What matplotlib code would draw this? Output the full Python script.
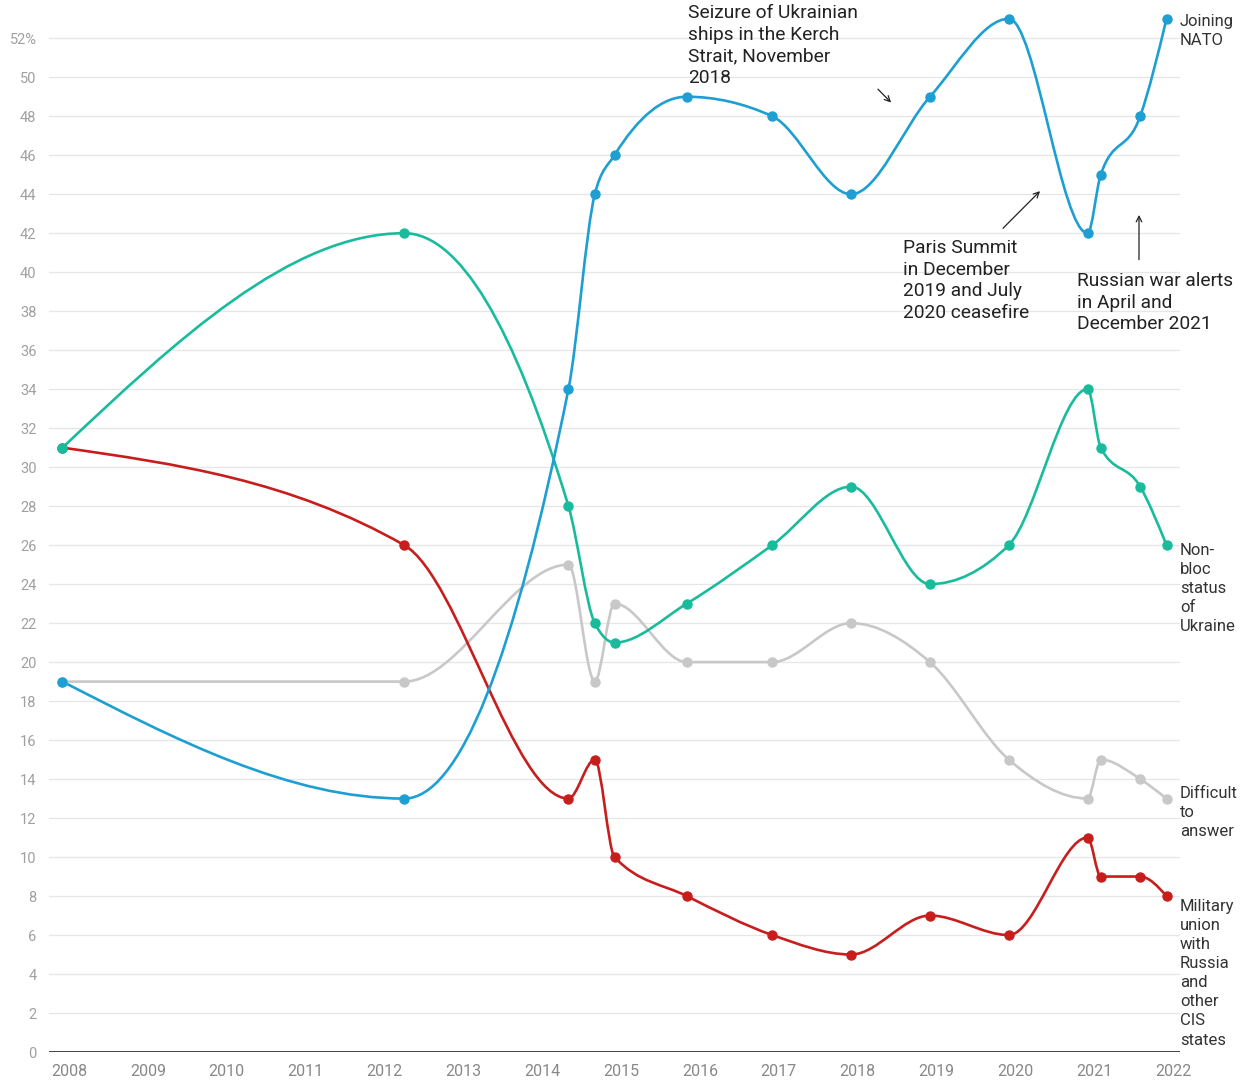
import numpy as np
import matplotlib
matplotlib.use("Agg")
import matplotlib.pyplot as plt
from matplotlib.path import Path
from matplotlib.patches import PathPatch

plt.rcParams['font.family'] = ['Roboto', 'DejaVu Sans']

# survey dates (decimal years)
dates = [2007.917, 2012.25, 2014.333, 2014.667, 2014.917, 2015.833, 2016.917,
         2017.917, 2018.917, 2019.917, 2020.917, 2021.083, 2021.583, 2021.917]
nato = [19, 13, 34, 44, 46, 49, 48, 44, 49, 53, 42, 45, 48, 53]
nonbloc = [31, 42, 28, 22, 21, 23, 26, 29, 24, 26, 34, 31, 29, 26]
difficult = [19, 19, 25, 19, 23, 20, 20, 22, 20, 15, 13, 15, 14, 13]
military = [31, 26, 13, 15, 10, 8, 6, 5, 7, 6, 11, 9, 9, 8]

series_names = ["Difficult\nto\nanswer",
                "Military\nunion\nwith\nRussia\nand\nother\nCIS\nstates",
                "Non-\nbloc\nstatus\nof\nUkraine",
                "Joining\nNATO"]
series_vals = [difficult, military, nonbloc, nato]
colors = ["#c8c8c8", "#c71e1d", "#18bc9c", "#1d9fd3"]
label_y = [13.65, 7.85, 26.1, 53.25]

year_ticks = list(range(2008, 2023))
y_ticks = list(range(0, 53, 2))


def monotone_path(x, y):
    x = np.asarray(x, float)
    y = np.asarray(y, float)
    n = len(x)
    h = np.diff(x)
    s = np.diff(y) / h
    t = np.zeros(n)
    for i in range(1, n - 1):
        h0, h1 = h[i - 1], h[i]
        s0, s1 = s[i - 1], s[i]
        p = (s0 * h1 + s1 * h0) / (h0 + h1)
        t[i] = (np.sign(s0) + np.sign(s1)) * min(abs(s0), abs(s1), 0.5 * abs(p))
    t[0] = (3 * s[0] - t[1]) / 2
    t[-1] = (3 * s[-1] - t[-2]) / 2
    verts = [(x[0], y[0])]
    codes = [Path.MOVETO]
    for i in range(n - 1):
        dx = (x[i + 1] - x[i]) / 3
        verts += [(x[i] + dx, y[i] + dx * t[i]),
                  (x[i + 1] - dx, y[i + 1] - dx * t[i + 1]),
                  (x[i + 1], y[i + 1])]
        codes += [Path.CURVE4] * 3
    return Path(verts, codes)


fig = plt.figure(figsize=(12.49, 10.82), dpi=100)
ax = fig.add_axes([49 / 1249, 1 - 1052 / 1082, (1180 - 49) / 1249, (1052 - 9) / 1082])
ax.set_xlim(2007.746, 2022.088)
ax.set_ylim(0, 53.5)

for v in y_ticks[1:]:
    ax.axhline(v, color="#e6e6e6", lw=0.9, zorder=0)
ax.axhline(0, color="#333333", lw=1.3, zorder=1)

for sp in ax.spines.values():
    sp.set_visible(False)

ax.set_yticks(y_ticks)
ax.set_yticklabels([str(v) if v != 52 else "52%" for v in y_ticks])
ax.set_xticks(year_ticks)
ax.set_xticklabels([str(y) for y in year_ticks])
ax.tick_params(axis='y', length=0, pad=9, labelsize=10.5, labelcolor="#a0a0a0")
ax.tick_params(axis='x', length=0, pad=9, labelsize=11.5, labelcolor="#888888")

for vals, c, name, ly in zip(series_vals, colors, series_names, label_y):
    patch = PathPatch(monotone_path(dates, vals), facecolor='none', edgecolor=c,
                      lw=1.9, zorder=3, clip_on=False, capstyle='round', joinstyle='round')
    ax.add_patch(patch)
    ax.plot(dates, vals, 'o', color=c, ms=6.5, zorder=4, clip_on=False)
    ax.text(2022.088, ly, name, fontsize=12, color="#333333", va='top', ha='left',
            linespacing=1.34, clip_on=False)

ann_kw = dict(fontsize=13.8, color="#222222", linespacing=1.25, ha='left', va='top')
ax.text(2015.85, 53.75, "Seizure of Ukrainian\nships in the Kerch\nStrait, November\n2018", **ann_kw)
ax.text(2018.575, 41.7, "Paris Summit\nin December\n2019 and July\n2020 ceasefire", **ann_kw)
ax.text(2020.78, 40.0, "Russian war alerts\nin April and\nDecember 2021", **ann_kw)

arr = dict(arrowstyle='->', color="#222222", lw=0.9, mutation_scale=10)
ax.annotate("", xy=(2018.449, 48.6), xytext=(2018.233, 49.49), arrowprops=arr)
ax.annotate("", xy=(2020.338, 44.26), xytext=(2019.818, 42.15), arrowprops=arr)
ax.annotate("", xy=(2021.568, 43.08), xytext=(2021.568, 40.5), arrowprops=arr)

fig.savefig("out.png", dpi=100)
